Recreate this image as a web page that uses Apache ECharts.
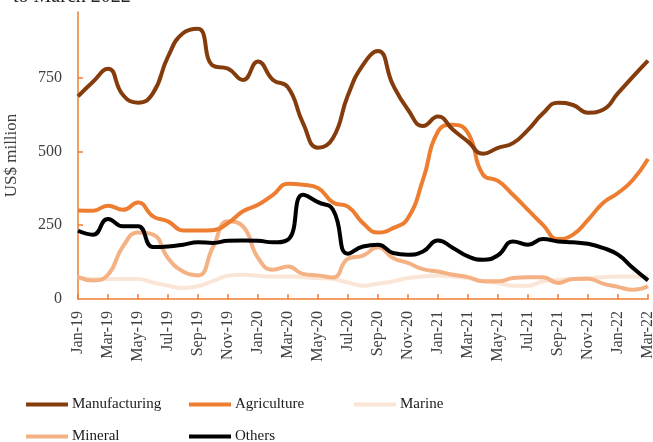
<!DOCTYPE html>
<html>
<head>
<meta charset="utf-8">
<script src="https://cdn.jsdelivr.net/npm/echarts@6/dist/echarts.min.js"></script>
<style>html,body{margin:0;padding:0;background:#fff;}#c{width:653px;height:442px;}</style>
</head>
<body>
<div id="c"></div>
<script>
const months = ['Jan-19','Feb-19','Mar-19','Apr-19','May-19','Jun-19','Jul-19','Aug-19','Sep-19','Oct-19','Nov-19','Dec-19',
'Jan-20','Feb-20','Mar-20','Apr-20','May-20','Jun-20','Jul-20','Aug-20','Sep-20','Oct-20','Nov-20','Dec-20',
'Jan-21','Feb-21','Mar-21','Apr-21','May-21','Jun-21','Jul-21','Aug-21','Sep-21','Oct-21','Nov-21','Dec-21',
'Jan-22','Feb-22','Mar-22'];
const manufacturing = [686,736,780,691,665,697,821,900,915,790,780,742,804,742,717,596,512,545,691,793,840,725,641,586,618,573,533,492,512,528,573,629,665,657,631,641,697,753,807];
const agriculture = [300,299,316,302,327,280,263,232,232,233,257,297,319,353,390,387,376,327,313,257,225,240,274,404,567,590,562,421,400,353,302,251,203,218,268,325,359,404,474];
const marine = [74,68,68,68,68,56,45,37,43,61,79,82,79,76,76,74,71,68,56,45,52,60,71,76,80,76,71,60,54,45,45,60,65,68,71,74,76,76,76];
const mineral = [74,63,82,178,225,218,139,93,80,176,263,246,139,99,110,85,80,73,136,147,175,139,122,101,93,82,74,60,60,71,74,74,54,68,69,52,41,31,43];
const others = [231,218,271,246,246,176,178,184,192,190,197,198,197,192,201,353,328,302,153,178,184,156,150,161,198,173,144,133,148,195,184,203,195,192,187,173,150,105,63];
const yTicks = [0,250,500,750];
const seriesNames = ['Manufacturing','Agriculture','Marine','Mineral','Others'];
const colors = ['#843C0C','#ED7D31','#FBE5D6','#F4B183','#000000'];

const font = '"Liberation Serif", "DejaVu Serif", serif';
const chart = echarts.init(document.getElementById('c'), null, {renderer:'canvas'});
const dataArr = [manufacturing, agriculture, marine, mineral, others];
const drawOrder = [2,3,1,4,0];
const series = drawOrder.map(i => ({
  name: seriesNames[i], type: 'line', data: dataArr[i], smooth: 0.5, symbol: 'none',
  lineStyle: {color: colors[i], width: 4}, itemStyle: {color: colors[i]}, z: 2 + drawOrder.indexOf(i)
}));
const legendPos = [
  {left: 26, top: 397}, {left: 189, top: 397}, {left: 354, top: 397},
  {left: 26, top: 429}, {left: 189, top: 429}
];
const legends = seriesNames.map((n, i) => ({
  data: [n], left: legendPos[i].left, top: legendPos[i].top, icon: 'rect', itemWidth: 42, itemHeight: 4,
  itemGap: 0, padding: 0, itemStyle: {color: colors[i]},
  textStyle: {fontFamily: font, fontSize: 15, color: '#1a1a1a', padding: [0,0,0,-1]}, selectedMode: false
}));
chart.setOption({
  animation: false,
  backgroundColor: '#fff',
  graphic: [{type: 'text', x: 13, y: -13, style: {text: 'to March 2022', font: '20px ' + font, fill: '#262626'}}],
  legend: legends,
  grid: {left: 78, right: 5, top: 12, bottom: 143, containLabel: false, outerBoundsMode: 'none'},
  xAxis: {
    type: 'category', data: months, boundaryGap: false,
    axisLine: {lineStyle: {color: '#ED7D31', width: 1.5}},
    axisTick: {inside: true, length: 5, interval: 1, lineStyle: {color: '#ED7D31', width: 1.5}},
    axisLabel: {interval: 1, rotate: 90, margin: 12, fontFamily: font, fontSize: 16, color: '#404040'},
    splitLine: {show: false}
  },
  yAxis: {
    type: 'value', min: 0, max: 972,
    name: 'US$ million', nameLocation: 'middle', nameRotate: 90, nameGap: 58,
    nameTextStyle: {fontFamily: font, fontSize: 17, color: '#404040'},
    axisLine: {show: true, lineStyle: {color: '#ED7D31', width: 1.5}},
    axisTick: {show: true, inside: true, length: 5, customValues: [250,500,750], lineStyle: {color: '#ED7D31', width: 1.5}},
    axisLabel: {customValues: yTicks, margin: 16, fontFamily: font, fontSize: 16, color: '#404040'},
    splitLine: {show: false}
  },
  series: series
});
</script>
</body>
</html>
